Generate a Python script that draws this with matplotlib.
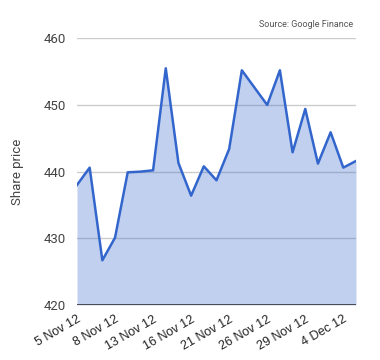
import matplotlib
matplotlib.use('Agg')
import matplotlib.pyplot as plt

# daily closing share price, 5 Nov 12 - 5 Dec 12
dates = ['5 Nov 12', '6 Nov 12', '7 Nov 12', '8 Nov 12', '9 Nov 12', '12 Nov 12',
         '13 Nov 12', '14 Nov 12', '15 Nov 12', '16 Nov 12', '19 Nov 12', '20 Nov 12',
         '21 Nov 12', '22 Nov 12', '23 Nov 12', '26 Nov 12', '27 Nov 12', '28 Nov 12',
         '29 Nov 12', '30 Nov 12', '3 Dec 12', '4 Dec 12', '5 Dec 12']
prices = [438.0, 440.6, 426.7, 430.1, 439.9, 440.0,
          440.2, 455.5, 441.3, 436.4, 440.8, 438.7,
          443.4, 455.2, 452.6, 450.0, 455.2, 442.9,
          449.4, 441.2, 445.9, 440.6, 441.6]
yticks = [420, 430, 440, 450, 460]

plt.rcParams['font.family'] = ['Roboto', 'DejaVu Sans']

fig = plt.figure(figsize=(3.8, 3.6), dpi=100)
ax = fig.add_axes([0.2026, 0.1528, 0.7342, 0.7408])

x = list(range(len(prices)))
for v in yticks[1:]:
    ax.axhline(v, color='#cccccc', lw=1, zorder=0)
ax.fill_between(x, prices, 420, color='#3366cc', alpha=0.3, lw=0, zorder=1)
ax.plot(x, prices, color='#3366cc', lw=1.8, zorder=2)
ax.axhline(420, color='#333333', lw=1.2, zorder=3)

ax.set_xlim(0, len(prices) - 1)
ax.set_ylim(420, 460)
ax.set_yticks(yticks)
ax.set_yticklabels([str(v) for v in yticks], color='#444444', fontsize=9.5)

tick_idx = x[::3][:8]
ax.set_xticks(tick_idx)
ax.set_xticklabels([dates[i] for i in tick_idx], rotation=30, ha='right',
                   rotation_mode='anchor', color='#222222', fontsize=9,
                   family='Liberation Sans')
ax.tick_params(axis='y', length=0, pad=8)
ax.tick_params(axis='x', length=0, pad=6)

for s in ax.spines.values():
    s.set_visible(False)

ax.set_ylabel('Share price', color='#444444', fontsize=9.5, labelpad=14)
fig.text(0.928, 0.92, 'Source: Google Finance', ha='right', va='bottom',
         fontsize=6.5, color='#555555')

fig.savefig('out.png', dpi=100)
